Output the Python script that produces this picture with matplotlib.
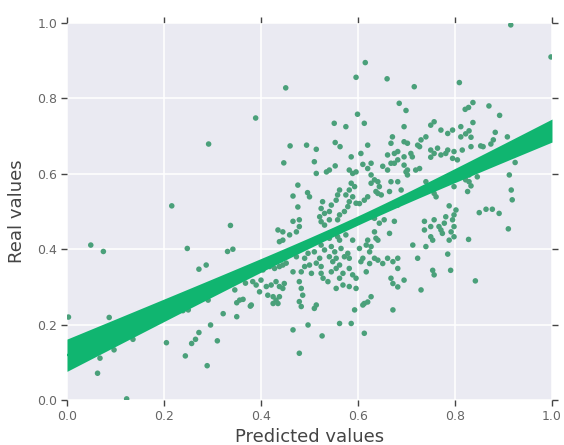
import numpy as np
import matplotlib
matplotlib.use("Agg")
import matplotlib.pyplot as plt

# ---- data (predicted, real) ----
pred_upper = [0.216,0.292,0.389,0.451,
    0.915,0.998,0.615,0.596,0.660,0.716,0.809,0.685,0.699,0.821,0.828,0.837,0.870,0.892,0.599,
    0.837,0.829,0.822,0.883,0.879,0.833,0.853,0.833,0.874,0.858,0.908,0.924,0.829,0.822,0.829,0.833,0.846,0.912,0.916,0.918,0.826,0.850,0.864,0.877,0.891,
    0.551,0.575,0.460,0.494,0.514,0.553,0.563,0.447,0.510,0.553,0.586,0.514,0.535,0.541,0.582,0.589,0.596,0.476,0.466,0.496,0.500,0.476,0.527,0.524,0.531,0.541,0.545,0.555,0.558,0.562,0.575,0.582,0.589,0.582,0.596,0.579,0.562,0.572,0.558,0.586,0.593,0.521,0.524,0.466,0.479,0.531,0.541,
    0.613,0.695,0.750,0.757,0.771,0.785,0.795,0.812,0.812,0.671,0.668,0.695,0.702,0.730,0.740,0.723,0.727,0.620,0.606,0.661,0.675,0.682,0.695,0.682,0.675,0.709,0.712,0.750,0.757,0.764,0.771,0.785,0.781,0.798,0.795,0.805,0.815,0.610,0.620,0.627,0.651,0.661,0.668,0.695,0.702,0.719,0.727,0.627,0.634,0.641,0.644,0.637,0.641,0.648,0.627,0.620,0.613,0.668,0.682,0.689,0.665,0.699,0.702,0.740,0.747,0.757,0.761,0.798,0.788,0.802,0.798,0.781,0.737,0.757,0.778,0.795,0.750,0.675,0.654,0.634,0.627,0.644,0.603,0.682,0.750]
real_upper = [0.515,0.679,0.748,0.828,
    0.995,0.910,0.895,0.856,0.852,0.831,0.842,0.787,0.768,0.771,0.776,0.789,0.780,0.755,0.758,
    0.736,0.714,0.706,0.710,0.690,0.697,0.674,0.672,0.679,0.672,0.698,0.630,0.597,0.584,0.579,0.568,0.592,0.597,0.557,0.531,0.553,0.497,0.506,0.506,0.495,
    0.734,0.725,0.674,0.676,0.665,0.683,0.672,0.629,0.632,0.621,0.645,0.601,0.605,0.610,0.610,0.601,0.605,0.570,0.541,0.550,0.539,0.512,0.526,0.508,0.495,0.500,0.517,0.530,0.544,0.557,0.544,0.557,0.539,0.526,0.522,0.513,0.491,0.500,0.478,0.575,0.566,0.486,0.473,0.474,0.478,0.464,0.478,
    0.734,0.725,0.729,0.738,0.716,0.707,0.716,0.698,0.725,0.698,0.681,0.685,0.681,0.690,0.698,0.676,0.672,0.676,0.654,0.650,0.654,0.659,0.645,0.637,0.628,0.654,0.645,0.663,0.654,0.668,0.650,0.663,0.654,0.659,0.641,0.637,0.663,0.625,0.614,0.628,0.620,0.610,0.628,0.623,0.610,0.610,0.614,0.597,0.584,0.579,0.566,0.553,0.548,0.544,0.575,0.539,0.530,0.579,0.579,0.557,0.553,0.605,0.597,0.579,0.566,0.548,0.539,0.566,0.515,0.504,0.491,0.486,0.474,0.478,0.469,0.478,0.460,0.474,0.478,0.482,0.486,0.469,0.521,0.517,0.644]

pred_lower = [0.049,0.075,0.003,0.087,0.068,0.097,0.136,0.063,0.123,0.248,0.205,0.244,0.257,0.265,0.272,0.287,0.272,0.289,0.296,0.310,0.322,0.291,0.239,0.250,0.331,0.342,0.337,0.346,0.350,0.350,0.356,0.363,0.368,0.378,
    0.435,0.445,0.459,0.473,0.479,0.438,0.445,0.541,0.558,0.562,0.575,0.589,0.524,0.531,0.545,0.552,0.565,0.473,0.490,0.497,0.510,0.521,0.514,0.524,0.541,0.548,0.555,0.572,0.579,0.582,0.562,0.397,0.404,0.418,0.428,0.438,0.445,0.452,0.466,0.483,0.490,0.500,0.504,0.524,0.528,0.538,0.545,0.555,0.562,0.569,0.582,0.589,0.596,0.383,0.390,0.400,0.411,0.421,0.431,0.438,0.445,0.448,0.397,0.414,0.425,0.431,0.438,0.425,0.435,0.479,0.483,0.486,0.479,0.483,0.514,0.510,0.555,0.569,0.582,0.596,0.380,0.562,0.586,0.497,0.466,0.479,0.526,
    0.634,0.637,0.641,0.620,0.617,0.627,0.603,0.624,0.610,0.606,0.624,0.617,0.634,0.641,0.651,0.661,0.665,0.682,0.682,0.672,0.668,0.672,0.682,0.695,0.730,0.627,0.620,0.613,0.610,0.593,0.672,0.613,0.713,0.740,0.723,0.754,0.757,0.791,0.785,0.737,0.750,0.754,0.771,0.774,0.792,0.798,0.788,0.798,0.767,
    0.910,0.828,0.842]
real_lower = [0.411,0.394,0.220,0.219,0.111,0.133,0.161,0.071,0.003,0.402,0.152,0.117,0.150,0.161,0.179,0.358,0.347,0.091,0.199,0.157,0.229,0.265,0.237,0.239,0.394,0.400,0.463,0.292,0.221,0.258,0.265,0.267,0.310,0.249,
    0.451,0.446,0.438,0.446,0.460,0.420,0.424,0.429,0.433,0.424,0.438,0.424,0.411,0.398,0.407,0.393,0.402,0.380,0.376,0.389,0.393,0.376,0.363,0.354,0.380,0.367,0.376,0.380,0.389,0.376,0.358,0.354,0.345,0.354,0.349,0.354,0.358,0.363,0.340,0.340,0.354,0.358,0.336,0.336,0.323,0.314,0.340,0.349,0.323,0.336,0.349,0.332,0.323,0.314,0.305,0.318,0.301,0.305,0.314,0.301,0.296,0.309,0.287,0.278,0.274,0.265,0.274,0.256,0.256,0.314,0.296,0.278,0.261,0.248,0.252,0.243,0.296,0.305,0.301,0.296,0.252,0.203,0.203,0.199,0.186,0.124,0.170,
    0.446,0.429,0.424,0.424,0.411,0.407,0.402,0.393,0.376,0.367,0.362,0.340,0.376,0.371,0.362,0.376,0.442,0.376,0.349,0.367,0.323,0.309,0.300,0.318,0.292,0.274,0.260,0.256,0.252,0.239,0.239,0.177,0.411,0.407,0.376,0.344,0.332,0.344,0.387,0.451,0.433,0.424,0.451,0.442,0.446,0.433,0.424,0.460,0.460,
    0.454,0.426,0.316]

predicted = np.array(pred_upper + pred_lower)
real = np.array(real_upper + real_lower)

x_ticks = [0.0, 0.2, 0.4, 0.6, 0.8, 1.0]
y_ticks = [0.0, 0.2, 0.4, 0.6, 0.8, 1.0]
x_label = "Predicted values"
y_label = "Real values"

point_color = "#4aa07a"
band_color = "#10b570"

# ---- figure ----
fig = plt.figure(figsize=(5.64, 4.45), dpi=100)
ax = fig.add_axes([0.1188, 0.1011, 0.8599, 0.8472])
ax.set_facecolor("#eaeaf2")
for s in ax.spines.values():
    s.set_visible(False)

ax.scatter(predicted, real, s=16, color=point_color, edgecolors="none", zorder=2)

# linear fit with confidence band (90%)
coef = np.polyfit(predicted, real, 1)
xs = np.linspace(0, 1, 200)
yhat = np.polyval(coef, xs)
n = len(predicted)
resid = real - np.polyval(coef, predicted)
s_err = np.sqrt(np.sum(resid ** 2) / (n - 2))
xm = predicted.mean()
sxx = np.sum((predicted - xm) ** 2)
se = s_err * np.sqrt(1.0 / n + (xs - xm) ** 2 / sxx)
t = 1.65
ax.fill_between(xs, yhat - t * se, yhat + t * se, color=band_color, lw=0, zorder=3)
ax.plot(xs, yhat, color=band_color, lw=1.5, zorder=4)

ax.set_xlim(0, 1)
ax.set_ylim(0, 1)
ax.set_xticks(x_ticks)
ax.set_yticks(y_ticks)
ax.set_xticklabels([f"{v:.1f}" for v in x_ticks])
ax.set_yticklabels([f"{v:.1f}" for v in y_ticks])
ax.grid(True, color="white", lw=1.1, zorder=0)
ax.set_axisbelow(True)
ax.tick_params(direction="out", length=4, width=1, color="#444444",
               labelcolor="#666666", labelsize=9, top=True, right=True,
               pad=3)
ax.set_xlabel(x_label, fontsize=13, color="#444444", labelpad=4)
ax.set_ylabel(y_label, fontsize=13, color="#444444", labelpad=8)

fig.savefig("out.png", dpi=100)
